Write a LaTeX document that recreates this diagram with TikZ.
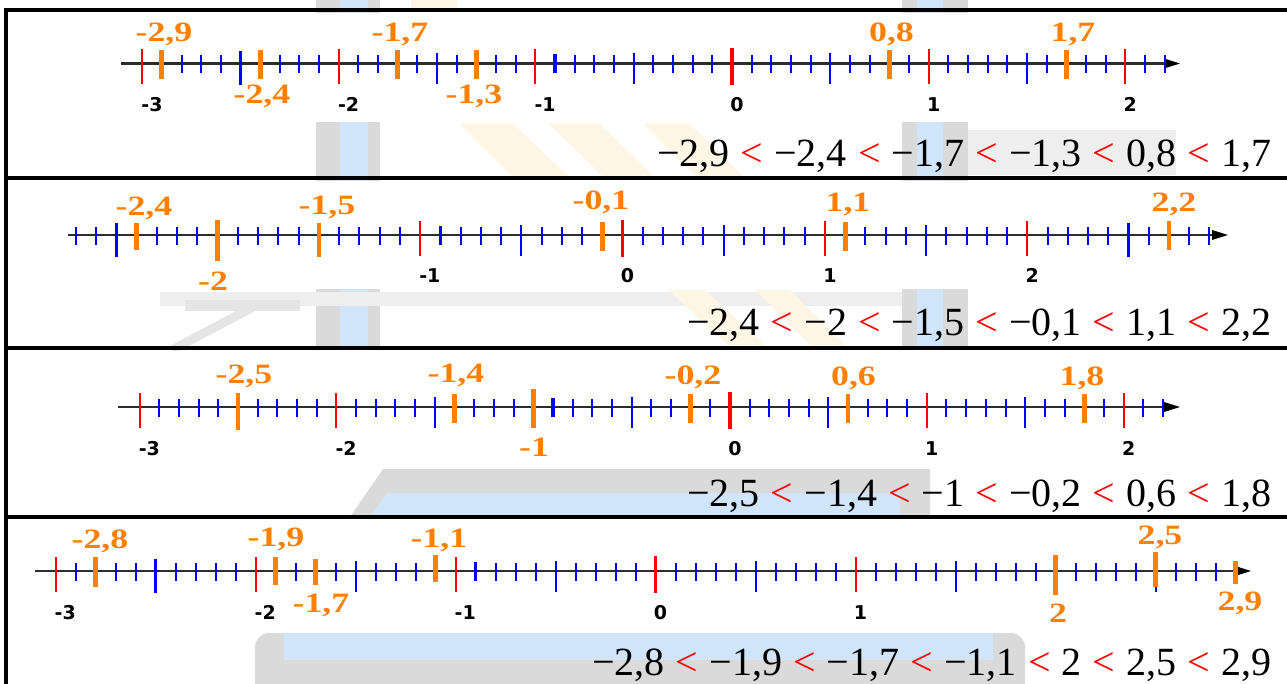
\documentclass[tikz,border=0pt]{standalone}
\usepackage{fontspec}
\usepackage{graphicx}
\setmainfont{Liberation Serif}
\newfontfamily\labfont{DejaVu Sans}
\usetikzlibrary{arrows.meta}
\definecolor{tkblue}{RGB}{0,0,255}
\definecolor{tkred}{RGB}{255,0,0}
\definecolor{tkorange}{RGB}{255,128,0}
\definecolor{axisgray}{RGB}{45,45,45}
\definecolor{wmgray}{RGB}{218,218,218}
\definecolor{wmlgray}{RGB}{238,238,238}
\definecolor{wmblue}{RGB}{208,229,250}
\definecolor{wmyellow}{RGB}{254,246,228}
\tikzset{
  axisline/.style={draw=axisgray, line width=2.2pt},
  redtick/.style={draw=tkred, line width=2pt},
  redthick/.style={draw=tkred, line width=3.2pt},
  bluetick/.style={draw=tkblue, line width=2pt},
  bluethick/.style={draw=tkblue, line width=3.4pt},
  orangetick/.style={draw=tkorange, line width=4.8pt},
  olabel/.style={text=tkorange, anchor=base, inner sep=0pt, font=\fontsize{28}{28}\selectfont\bfseries},
  nlabel/.style={text=black, inner sep=0pt, font=\labfont\fontsize{19}{19}\selectfont\bfseries},
  ineq/.style={anchor=base east, inner sep=0pt, font=\fontsize{40}{40}\selectfont},
  frameline/.style={draw=black, line width=4pt},
}
\newcommand\sx[1]{\scalebox{1.28}[1]{#1}}
\newcommand\ineqsign{\hspace{0.278em}\textcolor{tkred}{<}\hspace{0.278em}}
% number line: #1 start x, #2 first tick index, #3 last tick index, #4 arrow tip x
\newcommand\numline[4]{%
  \draw[axisline] (#1,\Yc) -- ({#4-10},\Yc);
  \fill[black] ({#4-16},{\Yc-5}) -- (#4,\Yc) -- ({#4-16},{\Yc+5}) -- cycle;
  \foreach \i in {#2,...,#3}{%
    \pgfmathsetmacro\xx{round(\Zc+\i*\Uc/10)}%
    \pgfmathtruncatemacro\mten{mod(abs(\i),10)}%
    \pgfmathtruncatemacro\mfive{mod(abs(\i),5)}%
    \ifnum\mten=0
      \draw[redtick] (\xx,{\Yc-14}) -- (\xx,{\Yc+21});
    \else\ifnum\mfive=0
      \draw[bluetick] (\xx,{\Yc-10}) -- (\xx,{\Yc+21});
    \else
      \draw[bluetick] (\xx,{\Yc-8}) -- (\xx,{\Yc+10});
    \fi\fi
  }%
}
\newcommand\ztk{\draw[redthick] (\Zc,{\Yc-15}) -- (\Zc,{\Yc+22});}
\newcommand\btk[3]{\draw[bluethick] ({\Zc+(#1)*\Uc},{\Yc-#2}) -- ({\Zc+(#1)*\Uc},{\Yc+#3});}
\newcommand\otk[3]{\draw[orangetick] ({\Zc+(#1)*\Uc},{\Yc-#2}) -- ({\Zc+(#1)*\Uc},{\Yc+#3});}
\newcommand\nneg[3]{\node[nlabel, anchor=base west] (#1) at ({\Zc+(#2)*\Uc-1},{\Yc+48}) {#3};}
\newcommand\npos[3]{\node[nlabel, anchor=base] (#1) at ({\Zc+(#2)*\Uc+5},{\Yc+48}) {#3};}
\newcommand\olab[4]{\node[olabel] (#1) at (#2,#3) {\sx{#4}};}
\begin{document}
\begin{tikzpicture}[x=1pt,y=-1pt]
\useasboundingbox (0,0) rectangle (1287,684);
% ---------- faded watermark ----------
\fill[wmgray] (316,0) rectangle (380,348);
\fill[wmblue] (340,0) rectangle (368,348);
\fill[wmgray] (902,0) rectangle (968,348);
\fill[wmblue] (917,0) rectangle (943,348);
\fill[wmlgray] (968,130) rectangle (1176,175);
\fill[wmyellow] (411,0) rectangle (457,9);
\fill[wmyellow] (459,124) -- (514,124) -- (570,178) -- (514,178) -- cycle;
\fill[wmyellow] (549,124) -- (600,124) -- (655,178) -- (604,178) -- cycle;
\fill[wmyellow] (643,124) -- (690,124) -- (745,178) -- (698,178) -- cycle;
\fill[wmlgray] (160,292) rectangle (902,306);
\fill[wmgray!70!white] (185,300) rectangle (300,311);
\draw[wmgray!70!white, line width=9pt] (172,350) -- (255,306);
\fill[wmyellow] (668,290) -- (705,290) -- (765,345) -- (728,345) -- cycle;
\fill[wmyellow] (755,290) -- (790,290) -- (845,345) -- (810,345) -- cycle;
\fill[wmgray] (350,517) -- (383,469) -- (930,469) -- (930,517) -- cycle;
\fill[wmblue] (370,517) -- (387,493) -- (900,493) -- (900,517) -- cycle;
\fill[wmgray, rounded corners=14pt] (255,633) rectangle (1025,700);
\fill[wmblue] (284,633) rectangle (993,660);
% white backgrounds of the number-line pictures
\fill[white] (120,13) rectangle (1192,122);
\fill[white] (66,181) rectangle (1232,289);
\fill[white] (116,351) rectangle (1192,462);
\fill[white] (32,520) rectangle (1262,624);
% ---------- frame ----------
\draw[frameline] (4,10) -- (1287,10);
\draw[frameline] (4,178) -- (1287,178);
\draw[frameline] (4,348) -- (1287,348);
\draw[frameline] (4,517) -- (1287,517);
\draw[frameline] (6,8) -- (6,684);
% ---------- panel 1 ----------
\def\Zc{732}\def\Uc{196.6}\def\Yc{63.5}
\numline{121}{-30}{22}{1180}
\ztk
\btk{-2.5}{12}{22}
\btk{-0.9}{9}{10}
\otk{-2.9}{13}{16}
\otk{-2.4}{13}{16}
\otk{-1.7}{13}{16}
\otk{-1.3}{13}{16}
\otk{0.8}{13}{16}
\otk{1.7}{13}{16}
\nneg{p1m3}{-3}{-3}
\nneg{p1m2}{-2}{-2}
\nneg{p1m1}{-1}{-1}
\npos{p1z}{0}{0}
\npos{p1p1}{1}{1}
\npos{p1p2}{2}{2}
\olab{p1a}{164}{42}{-2,9}
\olab{p1b}{262}{104}{-2,4}
\olab{p1c}{400}{42}{-1,7}
\olab{p1d}{474}{104}{-1,3}
\olab{p1e}{891.5}{42}{0,8}
\olab{p1f}{1073}{42}{1,7}
\node[ineq] (p1eq) at (1271.5,167) {−2,9\ineqsign{}−2,4\ineqsign{}−1,7\ineqsign{}−1,3\ineqsign{}0,8\ineqsign{}1,7};
% ---------- panel 2 ----------
\def\Zc{622.5}\def\Uc{202.4}\def\Yc{235}
\numline{68}{-27}{29}{1228}
\ztk
\btk{-2.5}{12}{22}
\btk{-0.9}{9}{10}
\btk{2.5}{12}{22}
\otk{-2.4}{12}{15}
\otk{-2}{15}{26}
\otk{-1.5}{12}{22}
\otk{-0.1}{13}{16}
\otk{1.1}{13}{16}
\otk{2.7}{14}{15}
\npos{p2z}{0}{0}
\nneg{p2m1}{-1}{-1}
\npos{p2p1}{1}{1}
\npos{p2p2}{2}{2}
\olab{p2a}{144}{216}{-2,4}
\olab{p2b}{213}{291}{-2}
\olab{p2c}{327}{215}{-1,5}
\olab{p2d}{601}{210}{-0,1}
\olab{p2e}{848}{212}{1,1}
\olab{p2f}{1174}{212}{2,2}
\node[ineq] (p2eq) at (1271.5,336) {−2,4\ineqsign{}−2\ineqsign{}−1,5\ineqsign{}−0,1\ineqsign{}1,1\ineqsign{}2,2};
% ---------- panel 3 ----------
\def\Zc{730}\def\Uc{196.8}\def\Yc{407}
\numline{118}{-30}{22}{1180}
\ztk
\btk{-0.9}{9}{10}
\otk{-2.5}{14}{23}
\otk{-1.4}{13}{16}
\otk{-1}{18}{21}
\otk{-0.2}{13}{16}
\otk{0.6}{13}{16}
\otk{1.8}{13}{16}
\nneg{p3m3}{-3}{-3}
\nneg{p3m2}{-2}{-2}
\npos{p3z}{0}{0}
\npos{p3p1}{1}{1}
\npos{p3p2}{2}{2}
\olab{p3a}{244}{383}{-2,5}
\olab{p3b}{456}{382}{-1,4}
\olab{p3c}{534}{456}{-1}
\olab{p3d}{693}{384}{-0,2}
\olab{p3e}{853.5}{385}{0,6}
\olab{p3f}{1082}{385}{1,8}
\node[ineq] (p3eq) at (1271.5,506) {−2,5\ineqsign{}−1,4\ineqsign{}−1\ineqsign{}−0,2\ineqsign{}0,6\ineqsign{}1,8};
% ---------- panel 4 ----------
\def\Zc{655.5}\def\Uc{200}\def\Yc{571}
\numline{35}{-30}{28}{1251}
\ztk
\btk{-2.5}{12}{22}
\btk{-0.9}{9}{10}
\otk{-2.8}{14}{16}
\otk{-1.9}{14}{14}
\otk{-1.7}{12}{14}
\otk{-1.1}{16}{11}
\otk{2}{16}{24}
\otk{2.5}{19}{16}
\otk{2.9}{10}{13}
\nneg{p4m3}{-3}{-3}
\nneg{p4m2}{-2}{-2}
\nneg{p4m1}{-1}{-1}
\npos{p4z}{0}{0}
\npos{p4p1}{1}{1}
\olab{p4a}{100}{548}{-2,8}
\olab{p4b}{276}{546}{-1,9}
\olab{p4c}{439}{547}{-1,1}
\olab{p4d}{321}{612}{-1,7}
\olab{p4e}{1058}{622}{2}
\olab{p4f}{1160}{544}{2,5}
\olab{p4g}{1240}{610}{2,9}
\node[ineq] (p4eq) at (1271.5,675) {−2,8\ineqsign{}−1,9\ineqsign{}−1,7\ineqsign{}−1,1\ineqsign{}2\ineqsign{}2,5\ineqsign{}2,9};
\end{tikzpicture}
\end{document}
